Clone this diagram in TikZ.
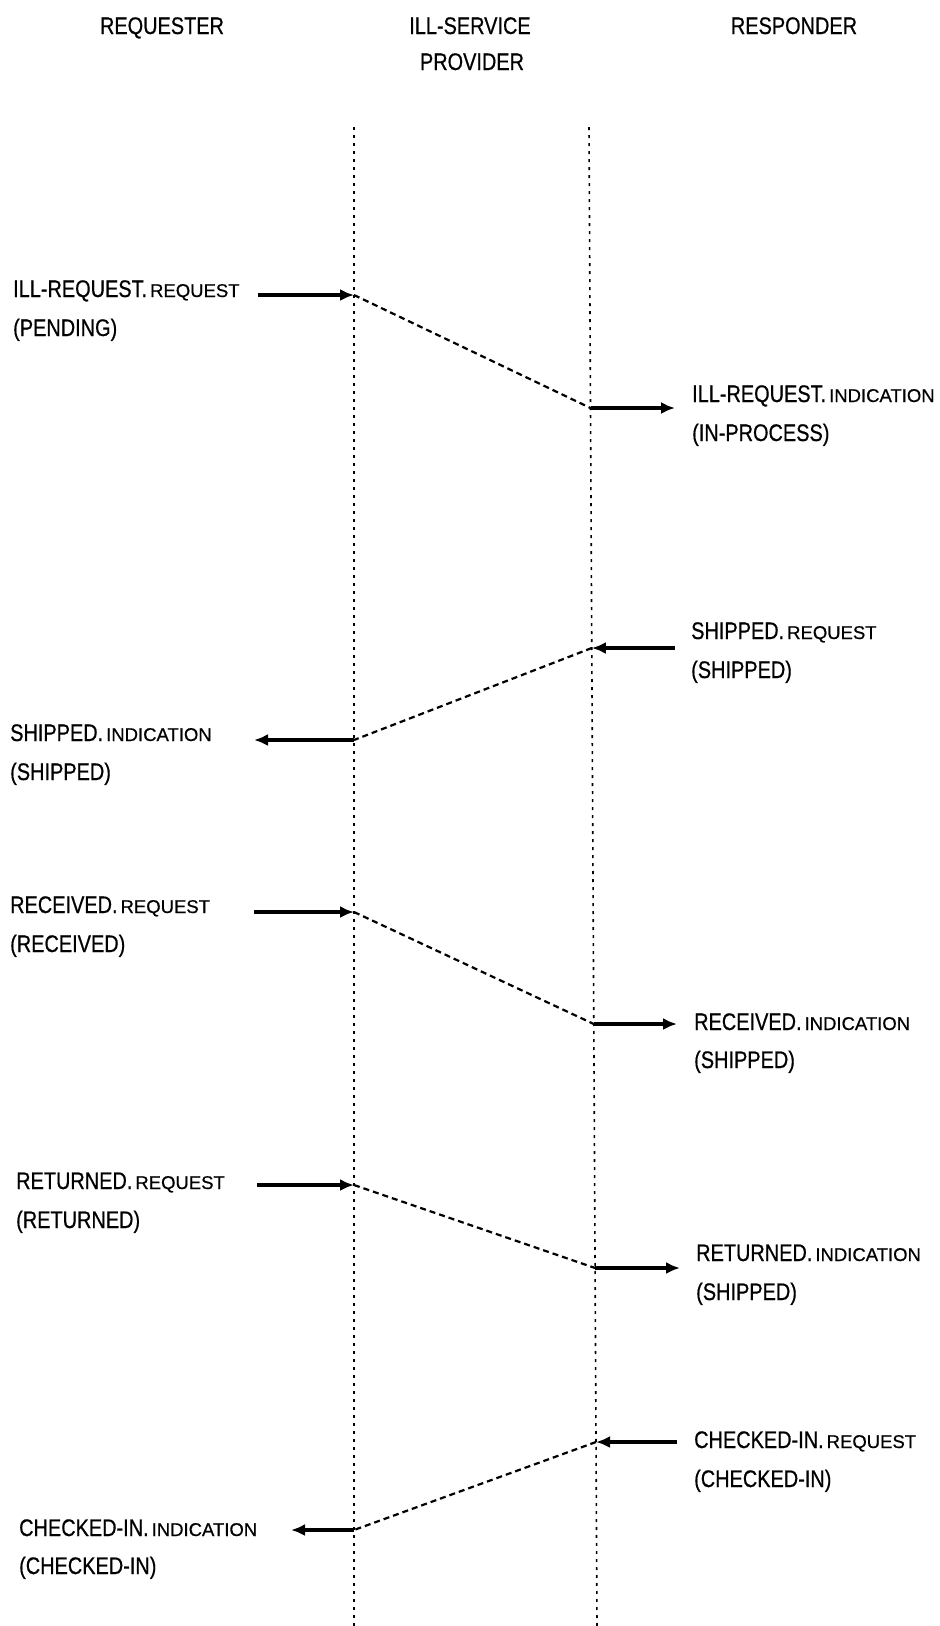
\documentclass[tikz,border=0pt]{standalone}
\usepackage{fontspec}
\setmainfont{Liberation Sans}[FakeStretch=0.83,FakeBold=0.6]
\newfontfamily\primfont{Liberation Sans}[FakeStretch=1.0,FakeBold=0.6]
\usetikzlibrary{arrows.meta}

% primitive type written in smaller capitals after the service name
\newcommand{\prim}[1]{.\kern3pt{\primfont\fontsize{18.5}{20}\selectfont #1}}

\begin{document}
\begin{tikzpicture}[x=1pt,y=-1pt,
  every node/.style={inner sep=0pt, font=\fontsize{24}{28}\selectfont},
  lbl/.style={anchor=base west},
  hdr/.style={anchor=base},
  lifeline/.style={line width=1.6pt, dash pattern=on 3pt off 5pt},
  msg/.style={line width=3.2pt, -{Latex[length=14pt,width=12pt]}},
  relay/.style={line width=2.2pt, dash pattern=on 6pt off 4pt},
]
\useasboundingbox (0,0) rectangle (940,1626);
\fill[white] (0,0) rectangle (940,1626);

% column headings
\node[hdr] (hreq) at (162,34) {REQUESTER};
\node[hdr] (hsp1) at (470,34) {ILL-SERVICE};
\node[hdr] (hsp2) at (472,70) {PROVIDER};
\node[hdr] (hres) at (794,34) {RESPONDER};

% lifelines of the service provider
\coordinate (l1top) at (354,127);
\coordinate (l1bot) at (354,1626);
\coordinate (l2top) at (589,127);
\coordinate (l2bot) at (597,1626);
\draw[lifeline] (l1top) -- (l1bot);
\draw[lifeline] (l2top) -- (l2bot);

% ILL-REQUEST: requester -> responder
\node[lbl] (r1a) at (13,297) {ILL-REQUEST\prim{REQUEST}};
\node[lbl] (r1b) at (13,336) {(PENDING)};
\node[lbl] (i1a) at (692,402) {ILL-REQUEST\prim{INDICATION}};
\node[lbl] (i1b) at (692,441) {(IN-PROCESS)};
\coordinate (m1s) at (258,295);
\coordinate (m1p) at (354,295);
\coordinate (m1q) at (590.5,408);
\coordinate (m1e) at (675,408);
\draw[msg] (m1s) -- (m1p);
\draw[relay] (m1p) -- (m1q);
\draw[msg] (m1q) -- (m1e);

% SHIPPED: responder -> requester
\node[lbl] (r2a) at (691,639) {SHIPPED\prim{REQUEST}};
\node[lbl] (r2b) at (691,678) {(SHIPPED)};
\node[lbl] (i2a) at (10,741) {SHIPPED\prim{INDICATION}};
\node[lbl] (i2b) at (10,780) {(SHIPPED)};
\coordinate (m2s) at (675,648);
\coordinate (m2q) at (591.8,648);
\coordinate (m2p) at (354,740);
\coordinate (m2e) at (254,740);
\draw[msg] (m2s) -- (m2q);
\draw[relay] (m2q) -- (m2p);
\draw[msg] (m2p) -- (m2e);

% RECEIVED: requester -> responder
\node[lbl] (r3a) at (10,913) {RECEIVED\prim{REQUEST}};
\node[lbl] (r3b) at (10,952) {(RECEIVED)};
\node[lbl] (i3a) at (694,1030) {RECEIVED\prim{INDICATION}};
\node[lbl] (i3b) at (694,1068) {(SHIPPED)};
\coordinate (m3s) at (254,912);
\coordinate (m3p) at (354,912);
\coordinate (m3q) at (593.8,1024);
\coordinate (m3e) at (677,1024);
\draw[msg] (m3s) -- (m3p);
\draw[relay] (m3p) -- (m3q);
\draw[msg] (m3q) -- (m3e);

% RETURNED: requester -> responder
\node[lbl] (r4a) at (16,1189) {RETURNED\prim{REQUEST}};
\node[lbl] (r4b) at (16,1228) {(RETURNED)};
\node[lbl] (i4a) at (696,1261) {RETURNED\prim{INDICATION}};
\node[lbl] (i4b) at (696,1300) {(SHIPPED)};
\coordinate (m4s) at (257,1185);
\coordinate (m4p) at (354,1185);
\coordinate (m4q) at (595.1,1268);
\coordinate (m4e) at (680,1268);
\draw[msg] (m4s) -- (m4p);
\draw[relay] (m4p) -- (m4q);
\draw[msg] (m4q) -- (m4e);

% CHECKED-IN: responder -> requester
\node[lbl] (r5a) at (694,1448) {CHECKED-IN\prim{REQUEST}};
\node[lbl] (r5b) at (694,1487) {(CHECKED-IN)};
\node[lbl] (i5a) at (19,1536) {CHECKED-IN\prim{INDICATION}};
\node[lbl] (i5b) at (19,1574) {(CHECKED-IN)};
\coordinate (m5s) at (677,1442);
\coordinate (m5q) at (596,1442);
\coordinate (m5p) at (354,1530);
\coordinate (m5e) at (291,1530);
\draw[msg] (m5s) -- (m5q);
\draw[relay] (m5q) -- (m5p);
\draw[msg] (m5p) -- (m5e);
\end{tikzpicture}
\end{document}
